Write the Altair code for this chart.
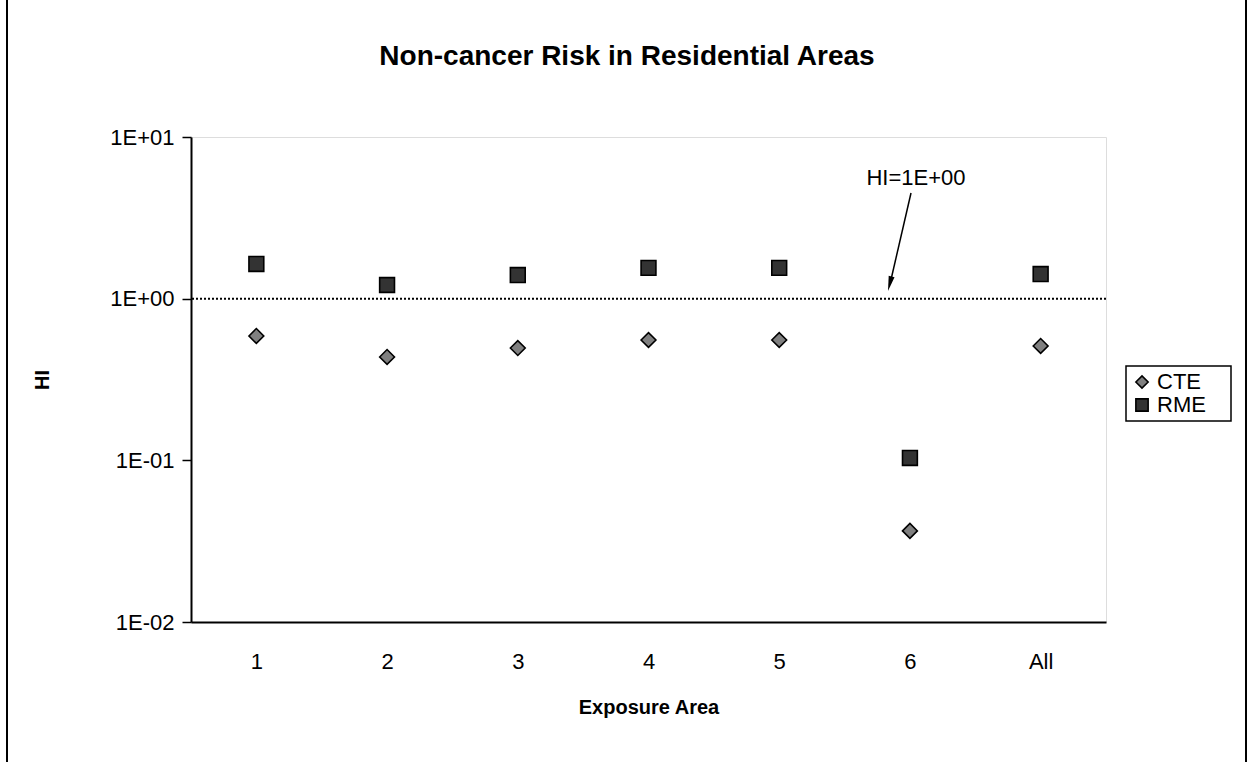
import altair as alt
import pandas as pd

areas = ["1", "2", "3", "4", "5", "6", "All"]
cte = [0.588, 0.436, 0.495, 0.555, 0.555, 0.0366, 0.51]
rme = [1.64, 1.215, 1.40, 1.55, 1.55, 0.1034, 1.42]
series_names = ["CTE", "RME"]
y_ticks = [0.01, 0.1, 1, 10]
ref_value = [1.0]
annot_text = ["HI=1E+00"]
title_text = ["Non-cancer Risk in Residential Areas"]

rows = []
for a, c, r in zip(areas, cte, rme):
    rows.append({"area": a, "series": "CTE", "HI": c})
    rows.append({"area": a, "series": "RME", "HI": r})
df = pd.DataFrame(rows)

FONT = "Liberation Sans"
W, H = 915, 485
one = pd.DataFrame({"t": annot_text})

points = alt.Chart(df).mark_point(filled=True, stroke="black", strokeWidth=1.6, opacity=1, size=220).encode(
    x=alt.X("area:N", sort=areas, scale=alt.Scale(padding=0.5),
            axis=alt.Axis(title="Exposure Area", labelAngle=0, ticks=False,
                          labelPadding=29, titlePadding=25, labelFontSize=22,
                          titleFontSize=20, titleFontWeight="bold",
                          domainColor="black", domainWidth=2)),
    y=alt.Y("HI:Q", scale=alt.Scale(type="log", domain=[0.01, 10], nice=False),
            axis=alt.Axis(title="HI", values=y_ticks, grid=False, tickSize=9,
                          tickColor="black", tickWidth=1.5,
                          labelPadding=8, titlePadding=57, labelFontSize=22,
                          titleFontSize=20, titleFontWeight="bold",
                          domainColor="black", domainWidth=2,
                          labelExpr="'1E' + (round(log(datum.value)/LN10) >= 0 ? '+' : '-') + '0' + abs(round(log(datum.value)/LN10))")),
    fill=alt.Fill("series:N", scale=alt.Scale(domain=series_names, range=["#808080", "#333333"]),
                  legend=alt.Legend(title=None, orient="none", legendX=935, legendY=229,
                                    labelFontSize=22, labelFont=FONT, labelColor="black",
                                    symbolStrokeColor="black", symbolStrokeWidth=1.6,
                                    symbolSize=150, rowPadding=1, padding=5,
                                    labelOffset=4)),
    shape=alt.Shape("series:N", scale=alt.Scale(domain=series_names, range=["diamond", "square"])),
)

legend_box = alt.Chart(one).mark_rect(fill="white", stroke="black", strokeWidth=1.5).encode(
    x=alt.value(935), x2=alt.value(1040), y=alt.value(229), y2=alt.value(284))

ref = alt.Chart(pd.DataFrame({"v": ref_value})).mark_rule(
    color="black", strokeWidth=2, strokeDash=[2, 2]
).encode(y="v:Q")

annot = alt.Chart(one).mark_text(
    fontSize=22, font=FONT, color="black", baseline="middle", align="center"
).encode(text="t:N", x=alt.value(725), y=alt.value(41))

title = alt.Chart(pd.DataFrame({"t": title_text})).mark_text(
    fontSize=28, font=FONT, fontWeight="bold", color="black", baseline="middle", align="center"
).encode(text="t:N", x=alt.value(436), y=alt.value(-80))

shaft = alt.Chart(one).mark_rule(color="black", strokeWidth=1.5).encode(
    x=alt.value(720), y=alt.value(56), x2=alt.value(699), y2=alt.value(147))

head = alt.Chart(one).mark_point(
    shape="M0,-1L0.4,1L-0.4,1Z", filled=True, color="black", opacity=1, size=225, angle=194
).encode(x=alt.value(698.8), y=alt.value(146.7))

frame_l = alt.Chart(one).mark_rule(color="black", strokeWidth=2).encode(
    x=alt.value(-184), y=alt.value(-137), y2=alt.value(625))
frame_r = alt.Chart(one).mark_rule(color="black", strokeWidth=2).encode(
    x=alt.value(1055), y=alt.value(-137), y2=alt.value(625))

chart = alt.layer(legend_box, ref, points, annot, title, shaft, head, frame_l, frame_r).properties(
    width=W, height=H,
    autosize=alt.AutoSizeParams(type="none"),
    padding={"left": 191, "top": 137, "right": 141, "bottom": 140},
).configure_view(
    stroke="#808080", strokeWidth=2
).configure_axis(
    labelFont=FONT, titleFont=FONT, labelColor="black", titleColor="black"
).configure(background="white")

chart.save("out.html", embed_options={"renderer": "svg", "actions": False})
